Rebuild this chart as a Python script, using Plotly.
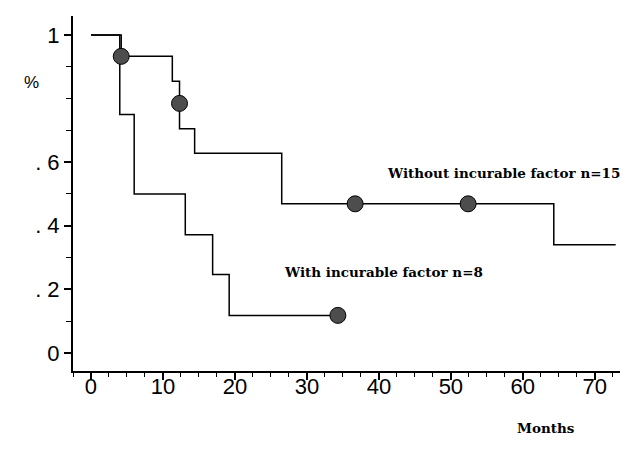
import plotly.graph_objects as go

# Kaplan-Meier style step data (months, survival proportion)
without_t = [0, 4.2, 11.3, 12.3, 14.4, 26.5, 64.3, 72.9]
without_s = [1.0, 0.933, 0.855, 0.705, 0.628, 0.469, 0.34, 0.34]
without_cens_t = [4.2, 12.3, 36.7, 52.4]
without_cens_s = [0.933, 0.785, 0.469, 0.469]

with_t = [0, 4.0, 6.0, 13.1, 16.9, 19.2, 34.3]
with_s = [1.0, 0.75, 0.5, 0.372, 0.247, 0.118, 0.118]
with_cens_t = [34.3]
with_cens_s = [0.118]

x_ticks = [0, 10, 20, 30, 40, 50, 60, 70]
y_tickvals = [0, 0.2, 0.4, 0.6, 1.0]
y_ticktext = ["0", ". 2", ". 4", ". 6", "1"]

label_without = "Without incurable factor n=15"
label_with = "With incurable factor n=8"

# the page body has an 8px default margin, so the figure is drawn 8px in from the corner
OFF = 8
W, H = 630 - OFF, 461 - OFF
ML, MR, MT, MB = 73 - OFF, 10, 16 - OFF, 461 - 371
PW, PH = W - ML - MR, H - MT - MB


def px2paper(px, py):
    # px, py are screen pixels in the 630x461 window
    return (px - OFF - ML) / PW, 1 - (py - OFF - MT) / PH


fig = go.Figure()
line_style = dict(color="black", width=1.5, shape="hv")
fig.add_trace(go.Scatter(x=without_t, y=without_s, mode="lines", line=line_style, showlegend=False))
fig.add_trace(go.Scatter(x=with_t, y=with_s, mode="lines", line=line_style, showlegend=False))
marker_style = dict(size=16, color="#4d4d4d", line=dict(color="black", width=1))
fig.add_trace(go.Scatter(x=without_cens_t, y=without_cens_s, mode="markers", marker=marker_style, showlegend=False))
fig.add_trace(go.Scatter(x=with_cens_t, y=with_cens_s, mode="markers", marker=marker_style, showlegend=False))

tick_font = dict(family="Liberation Sans Narrow, Arial Narrow, sans-serif", size=22, color="black")
serif = dict(family="DejaVu Serif, serif", size=13.5, color="black", weight="bold")


def ann(px, py, text, font):
    x, y = px2paper(px, py)
    return dict(x=x, y=y, xref="paper", yref="paper", text=text, showarrow=False, font=font,
                xanchor="center", yanchor="middle")


fig.update_layout(
    width=W, height=H,
    margin=dict(l=ML, r=MR, t=MT, b=MB),
    paper_bgcolor="white", plot_bgcolor="white",
    xaxis=dict(range=[-2.5, 73.5], tickvals=x_ticks, ticks="outside", ticklen=7, tickwidth=1.5,
               tickcolor="black", showline=True, linecolor="black", linewidth=2, showgrid=False,
               zeroline=False, tickfont=tick_font, automargin=False, ticklabelstandoff=-12,
               minor=dict(dtick=2.5, tick0=0, ticks="outside", ticklen=4, tickwidth=1.2, tickcolor="black")),
    yaxis=dict(range=[-0.057, 1.06], tickvals=y_tickvals, ticktext=y_ticktext, ticks="outside",
               ticklen=7, tickwidth=1.5, tickcolor="black", showline=True, linecolor="black",
               linewidth=2, showgrid=False, zeroline=False, tickfont=tick_font, ticklabelstandoff=0,
               automargin=False,
               minor=dict(dtick=0.1, tick0=0, ticks="outside", ticklen=5, tickwidth=1.2, tickcolor="black")),
    annotations=[
        ann(503, 173, label_without, serif),
        ann(383, 272, label_with, serif),
        ann(546, 428, "Months", serif),
        ann(31, 83, "%", dict(family="Liberation Sans, sans-serif", size=17, color="black")),
    ],
)

fig.write_html("out.html")
